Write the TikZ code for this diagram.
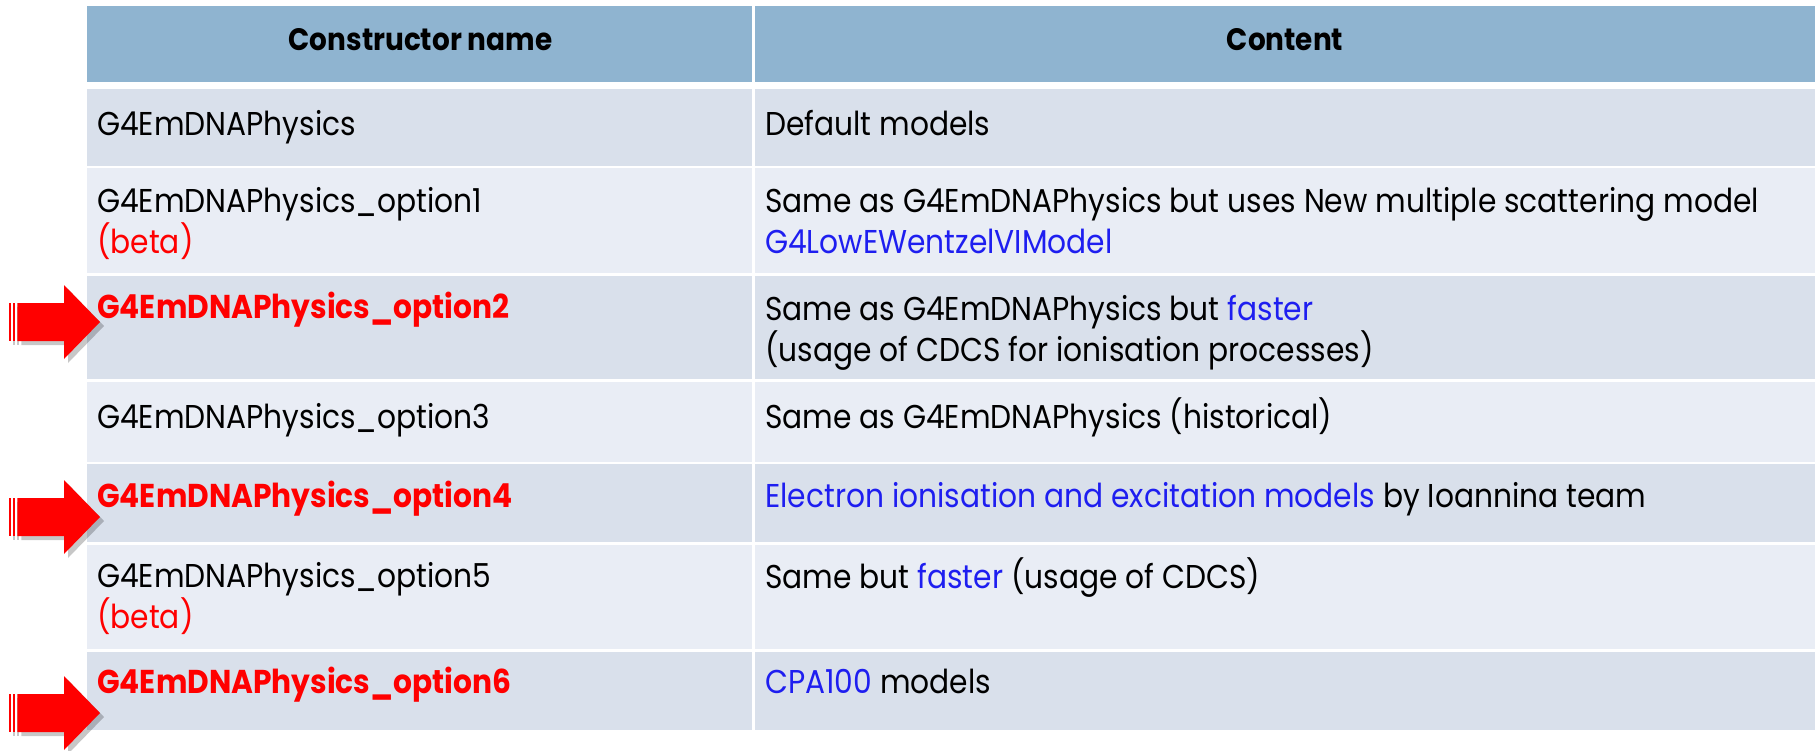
\documentclass[tikz,border=0pt]{standalone}
\usepackage{fontspec}
\setmainfont{Poppins}[FakeStretch=0.9]
\usetikzlibrary{shadows}
\definecolor{hdr}{RGB}{143,180,208}
\definecolor{rowA}{RGB}{217,224,235}
\definecolor{rowB}{RGB}{233,237,245}
\definecolor{tblue}{RGB}{30,30,240}
\definecolor{tred}{RGB}{255,0,0}
\tikzset{
  cell/.style={anchor=base west, inner sep=0pt, font=\fontsize{33}{40}\selectfont},
  boldcell/.style={cell, text=tred, font=\fontsize{33}{40}\selectfont\bfseries},
  hcell/.style={anchor=base, inner sep=0pt, font=\fontsize{31}{38}\selectfont\bfseries},
  redshape/.style={fill=tred, drop shadow={shadow xshift=4pt, shadow yshift=-4pt, opacity=0.22, fill=black}},
}
\newcommand{\stripearrow}[1]{%
  \begin{scope}[shift={(0,#1)}]
    \fill[redshape] (9.3,-19) rectangle (11.2,19);
    \fill[redshape] (12.8,-19) rectangle (15,19);
    \fill[redshape] (17.3,-19) -- (64,-19) -- (64,-37) -- (100,0) -- (64,37) -- (64,19) -- (17.3,19) -- cycle;
  \end{scope}}
\begin{document}
\begin{tikzpicture}[x=1pt,y=-1pt]
\useasboundingbox (0,0) rectangle (1817,750);
\clip (0,0) rectangle (1817,750);
% header
\fill[hdr] (87,6) rectangle (1815,82);
% rows
\fill[rowA] (87,89) rectangle (1815,166);
\fill[rowB] (87,168) rectangle (1815,273);
\fill[rowA] (87,276) rectangle (1815,379);
\fill[rowB] (87,382) rectangle (1815,462);
\fill[rowA] (87,464) rectangle (1815,542);
\fill[rowB] (87,545) rectangle (1815,649);
\fill[rowA] (87,652) rectangle (1815,730);
% column divider
\fill[white] (752,6) rectangle (755,730);
% header text
\node[hcell] (h1) at (420.5,50) {Constructor name};
\node[hcell] (h2) at (1285,50) {Content};
% row 1
\node[cell] (a1) at (97,135) {G4EmDNAPhysics};
\node[cell] (b1) at (765,135) {Default models};
% row 2
\node[cell] (a2) at (97,212) {G4EmDNAPhysics\_option1};
\node[cell, text=tred] (a2b) at (97,253) {(beta)};
\node[cell] (b2) at (765,212) {Same as G4EmDNAPhysics but uses New multiple scattering model};
\node[cell, text=tblue] (b2b) at (765,253) {G4LowEWentzelVIModel};
% row 3
\node[boldcell] (a3) at (97,318) {G4EmDNAPhysics\_option2};
\node[cell] (b3) at (765,320) {Same as G4EmDNAPhysics but \textcolor{tblue}{faster}};
\node[cell] (b3b) at (765,361) {(usage of CDCS for ionisation processes)};
% row 4
\node[cell] (a4) at (97,428) {G4EmDNAPhysics\_option3};
\node[cell] (b4) at (765,428) {Same as G4EmDNAPhysics (historical)};
% row 5
\node[boldcell] (a5) at (97,507) {G4EmDNAPhysics\_option4};
\node[cell] (b5) at (765,507) {\textcolor{tblue}{Electron ionisation and excitation models} by Ioannina team};
% row 6
\node[cell] (a6) at (97,587) {G4EmDNAPhysics\_option5};
\node[cell, text=tred] (a6b) at (97,628) {(beta)};
\node[cell] (b6) at (765,588) {Same but \textcolor{tblue}{faster} (usage of CDCS)};
% row 7
\node[boldcell] (a7) at (97,693) {G4EmDNAPhysics\_option6};
\node[cell] (b7) at (765,693) {\textcolor{tblue}{CPA100} models};
% arrows
\stripearrow{322}
\stripearrow{517}
\stripearrow{713}
\end{tikzpicture}
\end{document}
